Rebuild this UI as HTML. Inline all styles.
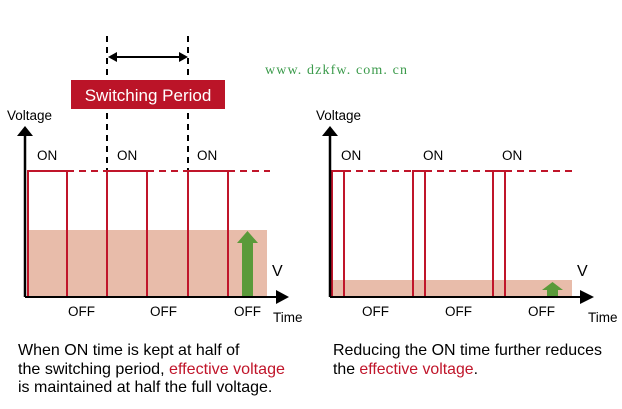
<!DOCTYPE html>
<html><head><meta charset="utf-8"><style>
html,body{margin:0;padding:0;background:#fff;}
svg{display:block;font-family:"Liberation Sans",Arial,sans-serif;}
</style></head><body>
<svg width="622" height="409" viewBox="0 0 622 409" xmlns="http://www.w3.org/2000/svg">
<!-- watermark -->
<text x="265" y="74" font-family="Liberation Serif,serif" font-size="14" fill="#3a9a4a" textLength="142" lengthAdjust="spacing">www. dzkfw. com. cn</text>
<!-- switching period -->
<line x1="107" y1="36" x2="107" y2="170" stroke="#000" stroke-width="2" stroke-dasharray="6,5"/>
<line x1="188" y1="36" x2="188" y2="170" stroke="#000" stroke-width="2" stroke-dasharray="6,5"/>
<line x1="114" y1="57" x2="181" y2="57" stroke="#000" stroke-width="2"/>
<polygon points="108,57 117,52 117,62" fill="#000"/>
<polygon points="188,57 179,52 179,62" fill="#000"/>
<rect x="71" y="80" width="154" height="29" fill="#bb1428"/>
<text x="148" y="101" text-anchor="middle" font-size="17" fill="#fff">Switching Period</text>

<!-- LEFT CHART -->
<rect x="28" y="230" width="239" height="67" fill="#e8bcaa"/>
<g stroke="#c0152a" stroke-width="2" fill="none">
<polyline points="28,297 28,171 67,171 67,297"/>
<polyline points="107,297 107,171 147,171 147,297"/>
<polyline points="188,297 188,171 228,171 228,297"/>
<line x1="67" y1="171" x2="107" y2="171" stroke-dasharray="7,5"/>
<line x1="147" y1="171" x2="188" y2="171" stroke-dasharray="7,5"/>
<line x1="228" y1="171" x2="270" y2="171" stroke-dasharray="7,5"/>
</g>
<polygon points="242,297 242,243 237,243 247.5,231 258,243 253,243 253,297" fill="#5a9a3a"/>
<line x1="25" y1="297" x2="277" y2="297" stroke="#000" stroke-width="2"/>
<polygon points="276,290 289,297 276,304" fill="#000"/>
<line x1="25" y1="297" x2="25" y2="134" stroke="#000" stroke-width="2.5"/>
<polygon points="17,136 25,126 33,136" fill="#000"/>
<g font-size="13.5" fill="#000">
<text x="7" y="120">Voltage</text>
<text x="37" y="160">ON</text>
<text x="117" y="160">ON</text>
<text x="197" y="160">ON</text>
<text x="68" y="316">OFF</text>
<text x="150" y="316">OFF</text>
<text x="234" y="316">OFF</text>
<text x="273" y="322">Time</text>
<text x="272" y="276" font-size="16">V</text>
</g>

<!-- RIGHT CHART -->
<rect x="332" y="280" width="240" height="17" fill="#e8bcaa"/>
<g stroke="#c0152a" stroke-width="2" fill="none">
<polyline points="332,297 332,171 344,171 344,297"/>
<polyline points="413,297 413,171 425,171 425,297"/>
<polyline points="493,297 493,171 505,171 505,297"/>
<line x1="344" y1="171" x2="413" y2="171" stroke-dasharray="7,5"/>
<line x1="425" y1="171" x2="493" y2="171" stroke-dasharray="7,5"/>
<line x1="505" y1="171" x2="575" y2="171" stroke-dasharray="7,5"/>
</g>
<polygon points="547,297 547,290 542,290 552.5,282 563,290 558,290 558,297" fill="#5a9a3a"/>
<line x1="330" y1="297" x2="582" y2="297" stroke="#000" stroke-width="2"/>
<polygon points="580,290 594,297 580,304" fill="#000"/>
<line x1="330" y1="297" x2="330" y2="134" stroke="#000" stroke-width="2.5"/>
<polygon points="322,136 330,126 338,136" fill="#000"/>
<g font-size="13.5" fill="#000">
<text x="316" y="120">Voltage</text>
<text x="341" y="160">ON</text>
<text x="423" y="160">ON</text>
<text x="502" y="160">ON</text>
<text x="362" y="316">OFF</text>
<text x="445" y="316">OFF</text>
<text x="528" y="316">OFF</text>
<text x="588" y="322">Time</text>
<text x="577" y="276" font-size="16">V</text>
</g>

<!-- captions -->
<g font-size="16" fill="#000">
<text x="18" y="355">When ON time is kept at half of</text>
<text x="18" y="374" textLength="267" lengthAdjust="spacingAndGlyphs">the switching period, <tspan fill="#c0152a">effective voltage</tspan></text>
<text x="18" y="392">is maintained at half the full voltage.</text>
<text x="333" y="355" textLength="269" lengthAdjust="spacingAndGlyphs">Reducing the ON time further reduces</text>
<text x="333" y="374" textLength="145" lengthAdjust="spacingAndGlyphs">the <tspan fill="#c0152a">effective voltage</tspan>.</text>
</g>
</svg>
</body></html>
